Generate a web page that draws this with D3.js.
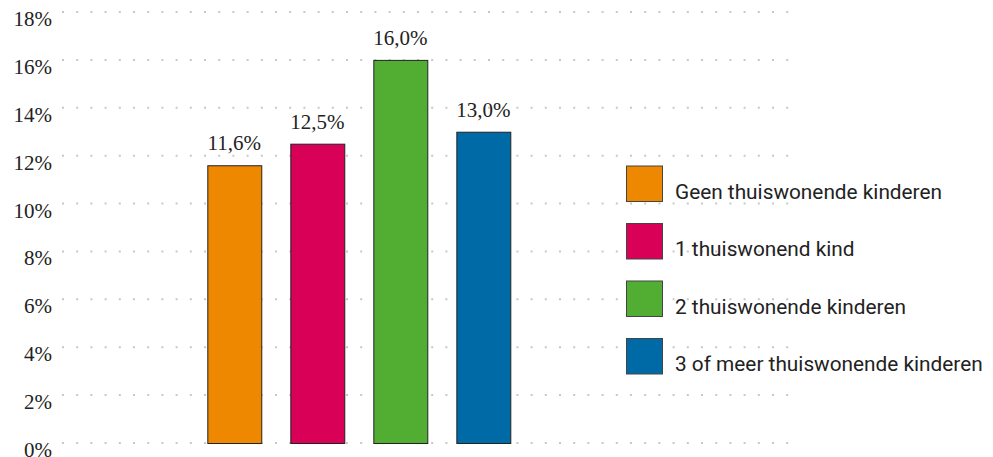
<!DOCTYPE html>
<style>
body { margin: 0; background: #fff; }
.tick-label { font-family: "Liberation Serif", serif; font-size: 21px; fill: #222; }
.value-label { font-family: "Liberation Serif", serif; font-size: 21px; fill: #222; }
.legend-text { font-family: Roboto, sans-serif; font-size: 20.8px; fill: #222; }
.grid line { stroke: #c8c8c8; stroke-width: 2; stroke-dasharray: 2,12.2; }
</style>
<body></body>
<script src="https://d3js.org/d3.v7.min.js"></script>
<script>
	var categories = ["Geen thuiswonende kinderen", "1 thuiswonend kind", "2 thuiswonende kinderen", "3 of meer thuiswonende kinderen"];
	var values = [11.6, 12.5, 16.0, 13.0];
	var colors = ["#ee8800", "#d90058", "#52ae32", "#006aa6"];
	var ticks = [0, 2, 4, 6, 8, 10, 12, 14, 16, 18];

	var width = 993, height = 457;

	var svg = d3.select("body").append("svg")
		.attr("width", width)
		.attr("height", height);

	var y = d3.scaleLinear().domain([0, 18]).range([443, 12]);
	var x = d3.scaleBand().domain(categories)
		.range([165.8, 551.8])
		.paddingInner(0.35)
		.paddingOuter(0.5);

	var fmt = function(v) { return d3.format(".1f")(v).replace(".", ",") + "%"; };

	// gridlines
	svg.append("g").attr("class", "grid")
		.selectAll("line")
		.data(ticks)
		.enter().append("line")
		.attr("x1", 62).attr("x2", 790)
		.attr("y1", function(d) { return y(d); })
		.attr("y2", function(d) { return y(d); });

	// y tick labels (sit just below their line)
	svg.append("g")
		.selectAll("text")
		.data(ticks)
		.enter().append("text")
		.attr("class", "tick-label")
		.attr("x", 52)
		.attr("y", function(d) { return y(d) + 14; })
		.attr("text-anchor", "end")
		.text(function(d) { return d + "%"; });

	// bars
	svg.append("g")
		.selectAll("rect")
		.data(values)
		.enter().append("rect")
		.attr("x", function(d, i) { return x(categories[i]) + 0.5; })
		.attr("y", function(d) { return y(d) + 0.5; })
		.attr("width", x.bandwidth())
		.attr("height", function(d) { return y(0) - y(d); })
		.attr("fill", function(d, i) { return colors[i]; })
		.attr("stroke", "#222")
		.attr("stroke-width", 1);

	svg.append("g")
		.selectAll("text")
		.data(values)
		.enter().append("text")
		.attr("class", "value-label")
		.attr("x", function(d, i) { return x(categories[i]) + x.bandwidth() / 2; })
		.attr("y", function(d) { return y(d) - 15; })
		.attr("text-anchor", "middle")
		.text(fmt);

	// legend
	var legend = svg.append("g").selectAll("g")
		.data(categories)
		.enter().append("g")
		.attr("transform", function(d, i) { return "translate(626.5," + (166 + i * 57.5) + ")"; });

	legend.append("rect")
		.attr("width", 36).attr("height", 35.5)
		.attr("fill", function(d, i) { return colors[i]; })
		.attr("stroke", "#444")
		.attr("stroke-width", 1);

	legend.append("text")
		.attr("class", "legend-text")
		.attr("x", 48.5)
		.attr("y", 32.5)
		.text(function(d) { return d; });
</script>
